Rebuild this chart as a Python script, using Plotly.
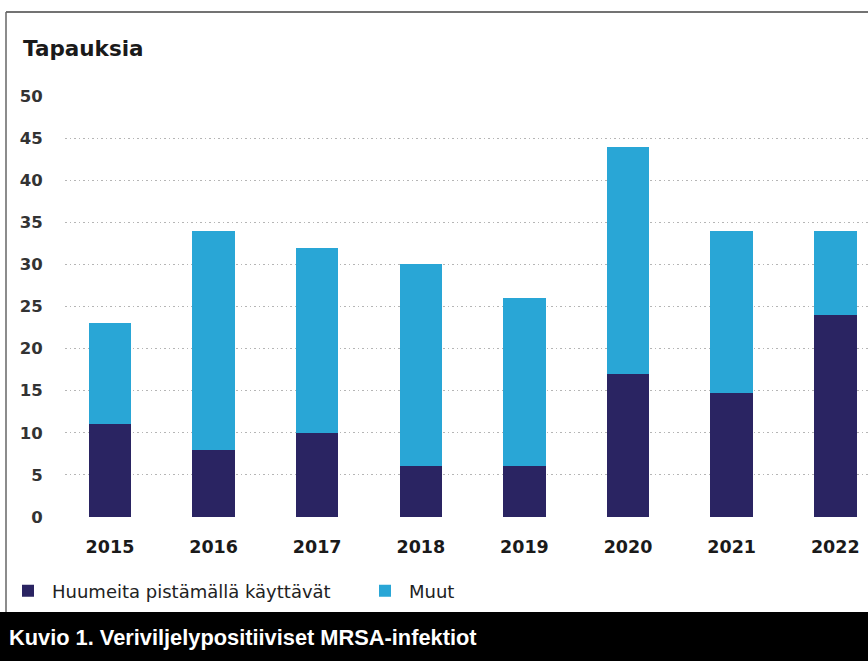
import plotly.graph_objects as go

years = ["2015", "2016", "2017", "2018", "2019", "2020", "2021", "2022"]
pwid = [11, 8, 10, 6, 6, 17, 14.7, 24]          # Huumeita pistämällä käyttävät
muut = [12, 26, 22, 24, 20, 27, 19.3, 10]        # Muut
yticks = [0, 5, 10, 15, 20, 25, 30, 35, 40, 45, 50]

W, H = 868, 661
L, R, T, B = 65, 0, 96, 144  # plot area px
pw, ph = W - L - R, H - T - B

def px(x):
    return (x - L) / pw

def py(y):
    return (H - B - y) / ph

DARK = "#2a2462"
BLUE = "#29a6d6"
FONT = "DejaVu Sans"

fig = go.Figure()
fig.add_bar(x=years, y=pwid, name="Huumeita pistämällä käyttävät",
            marker=dict(color=DARK, line=dict(width=0)), width=0.41)
fig.add_bar(x=years, y=muut, name="Muut",
            marker=dict(color=BLUE, line=dict(width=0)), width=0.41)

shapes = [
    dict(type="line", xref="paper", yref="paper", x0=px(6), x1=px(868), y0=py(12), y1=py(12),
         line=dict(color="#444444", width=1.5)),
    dict(type="line", xref="paper", yref="paper", x0=px(6), x1=px(6), y0=py(12), y1=py(612),
         line=dict(color="#666666", width=1.5)),
    dict(type="rect", xref="paper", yref="paper", x0=px(0), x1=px(868), y0=py(612), y1=py(661),
         fillcolor="#000000", line=dict(width=0), layer="above"),
]

annotations = [
    dict(text="<b>Tapauksia</b>", xref="paper", yref="paper", x=px(21), y=py(48),
         xanchor="left", yanchor="middle", showarrow=False,
         font=dict(family=FONT, size=21.5, color="#1a1a1a")),
    dict(text="<b>Kuvio 1. Veriviljelypositiiviset MRSA-infektiot</b>", xref="paper", yref="paper",
         x=px(7), y=py(637), xanchor="left", yanchor="middle", showarrow=False,
         font=dict(family="Liberation Sans, Arial", size=21.8, color="#ffffff")),
]

fig.update_layout(
    width=W, height=H,
    margin=dict(l=L, r=R, t=T, b=B, pad=0),
    barmode="stack",
    paper_bgcolor="#ffffff", plot_bgcolor="#ffffff",
    shapes=shapes, annotations=annotations,
    showlegend=True,
    legend=dict(orientation="h", x=px(4), y=py(591), xanchor="left", yanchor="middle",
                traceorder="normal", entrywidth=304, entrywidthmode="pixels", itemwidth=38,
                font=dict(family=FONT, size=18, color="#222222"),
                bgcolor="rgba(0,0,0,0)"),
    font=dict(family=FONT),
)

fig.update_xaxes(range=[-0.434, 7.316], showgrid=False, zeroline=False, showline=False,
                 ticks="outside", ticklen=14, tickcolor="rgba(0,0,0,0)",
                 tickfont=dict(family=FONT, size=17.5, color="#1a1a1a", weight="bold"))
fig.update_yaxes(range=[0, 50], tickvals=yticks, showgrid=True, gridcolor="#b5b5b5",
                 griddash="1.5px,3px", gridwidth=1, zeroline=False, showline=False,
                 ticks="outside", ticklen=18, tickcolor="rgba(0,0,0,0)",
                 tickfont=dict(family=FONT, size=16.5, color="#333333", weight="bold"))

fig.write_html("out.html")
